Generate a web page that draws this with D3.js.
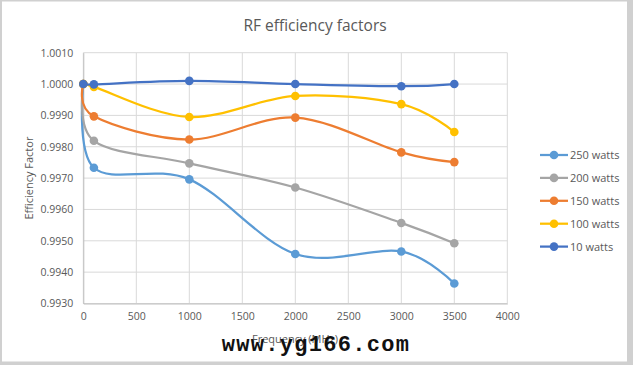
<!DOCTYPE html>
<html><head><meta charset="utf-8">
<script src="https://cdn.jsdelivr.net/npm/d3@7"></script>
<style>body{margin:0;background:#fff}svg{display:block}</style>
</head><body>
<script>
const freqs = [0, 100, 1000, 2000, 3000, 3500];
const seriesNames = ["250 watts", "200 watts", "150 watts", "100 watts", "10 watts"];
const w250 = [1.0000, 0.99733, 0.99696, 0.99458, 0.99466, 0.99364];
const w200 = [1.0000, 0.99819, 0.99747, 0.99670, 0.99557, 0.99492];
const w150 = [1.0000, 0.99897, 0.99823, 0.99893, 0.99782, 0.99751];
const w100 = [1.0000, 0.99991, 0.99895, 0.99962, 0.99936, 0.99847];
const w10  = [1.0000, 0.99999, 1.00010, 1.00000, 0.99993, 1.00000];
const seriesValues = [w250, w200, w150, w100, w10];
const colors = ["#5B9BD5", "#A5A5A5", "#ED7D31", "#FFC000", "#4472C4"];
const xTicks = [0, 500, 1000, 1500, 2000, 2500, 3000, 3500, 4000];
const yTicks = [0.9930, 0.9940, 0.9950, 0.9960, 0.9970, 0.9980, 0.9990, 1.0000, 1.0010];

const W = 633, H = 365;
const svg = d3.select("body").append("svg").attr("width", W).attr("height", H);
svg.append("rect").attr("width", W).attr("height", H).attr("fill", "#fff");

const x = d3.scaleLinear().domain([0, 4000]).range([83.3, 507.3]);
const y = d3.scaleLinear().domain([0.9930, 1.0010]).range([303.5, 52.7]);
const font = "'Open Sans', 'Noto Sans', sans-serif";
const txt = "#595959";

// gridlines
const g = svg.append("g");
g.selectAll(".vg").data(xTicks).enter().append("line")
  .attr("x1", d => x(d)).attr("x2", d => x(d)).attr("y1", y(1.0010)).attr("y2", y(0.9930))
  .attr("stroke", "#d9d9d9").attr("stroke-width", 1);
g.selectAll(".hg").data(yTicks).enter().append("line")
  .attr("x1", x(0)).attr("x2", x(4000)).attr("y1", d => y(d)).attr("y2", d => y(d))
  .attr("stroke", "#d9d9d9").attr("stroke-width", 1);

// axes
const xAxis = d3.axisBottom(x).tickValues(xTicks).tickSize(0).tickPadding(9).tickFormat(d3.format("d"));
const yAxis = d3.axisLeft(y).tickValues(yTicks).tickSize(0).tickPadding(10).tickFormat(d3.format(".4f"));
const gx = svg.append("g").attr("transform", `translate(0,${y(0.9930)})`).call(xAxis);
const gy = svg.append("g").attr("transform", `translate(${x(0)},0)`).call(yAxis);
[gx, gy].forEach(a => {
  a.select(".domain").attr("stroke", "#bfbfbf");
  a.selectAll("text").attr("fill", txt).style("font-family", font).style("font-size", "10.5px");
});

// series
const line = d3.line().x((d, i) => x(freqs[i])).y(d => y(d)).curve(d3.curveCardinal.tension(0));
seriesValues.forEach((vals, si) => {
  const sg = svg.append("g");
  sg.append("path").datum(vals).attr("d", line).attr("fill", "none")
    .attr("stroke", colors[si]).attr("stroke-width", 2.25);
  sg.selectAll("circle").data(vals).enter().append("circle")
    .attr("cx", (d, i) => x(freqs[i])).attr("cy", d => y(d)).attr("r", 4.3)
    .attr("fill", colors[si]);
});

// title
svg.append("text").attr("x", 315).attr("y", 31).attr("text-anchor", "middle")
  .attr("fill", txt).style("font-family", font).style("font-size", "15.5px").text("RF efficiency factors");

// axis titles
svg.append("text").attr("transform", `translate(33,${(y(1.0010) + y(0.9930)) / 2}) rotate(-90)`)
  .attr("text-anchor", "middle").attr("fill", txt).style("font-family", font).style("font-size", "11px")
  .text("Efficiency Factor");
svg.append("text").attr("x", 295).attr("y", 343).attr("text-anchor", "middle")
  .attr("fill", txt).style("font-family", font).style("font-size", "11px").text("Frequency (MHz)");

// legend
const lg = svg.append("g");
seriesNames.forEach((n, i) => {
  const ly = 155 + i * 22.9;
  lg.append("line").attr("x1", 540).attr("x2", 568).attr("y1", ly).attr("y2", ly)
    .attr("stroke", colors[i]).attr("stroke-width", 2.25);
  lg.append("circle").attr("cx", 554).attr("cy", ly).attr("r", 4.3).attr("fill", colors[i]);
  lg.append("text").attr("x", 570).attr("y", ly + 4).attr("fill", txt)
    .style("font-family", font).style("font-size", "11px").text(n);
});

// watermark
svg.append("text").attr("x", 316).attr("y", 351).attr("text-anchor", "middle")
  .attr("fill", "#111").style("font-family", "'Liberation Mono', 'DejaVu Sans Mono', monospace")
  .style("font-weight", "bold").style("font-size", "22px").style("letter-spacing", "1.3px")
  .text("www.yg166.com");

// outer frame
svg.append("rect").attr("x", 0).attr("y", 0).attr("width", 2).attr("height", H).attr("fill", "#d0d0d0");
svg.append("rect").attr("x", 0).attr("y", 0).attr("width", W).attr("height", 1.5).attr("fill", "#d0d0d0");
svg.append("rect").attr("x", 627).attr("y", 0).attr("width", 6).attr("height", H).attr("fill", "#d0d0d0");
svg.append("rect").attr("x", 0).attr("y", 361.5).attr("width", W).attr("height", 3.5).attr("fill", "#d0d0d0");
</script>
</body></html>
